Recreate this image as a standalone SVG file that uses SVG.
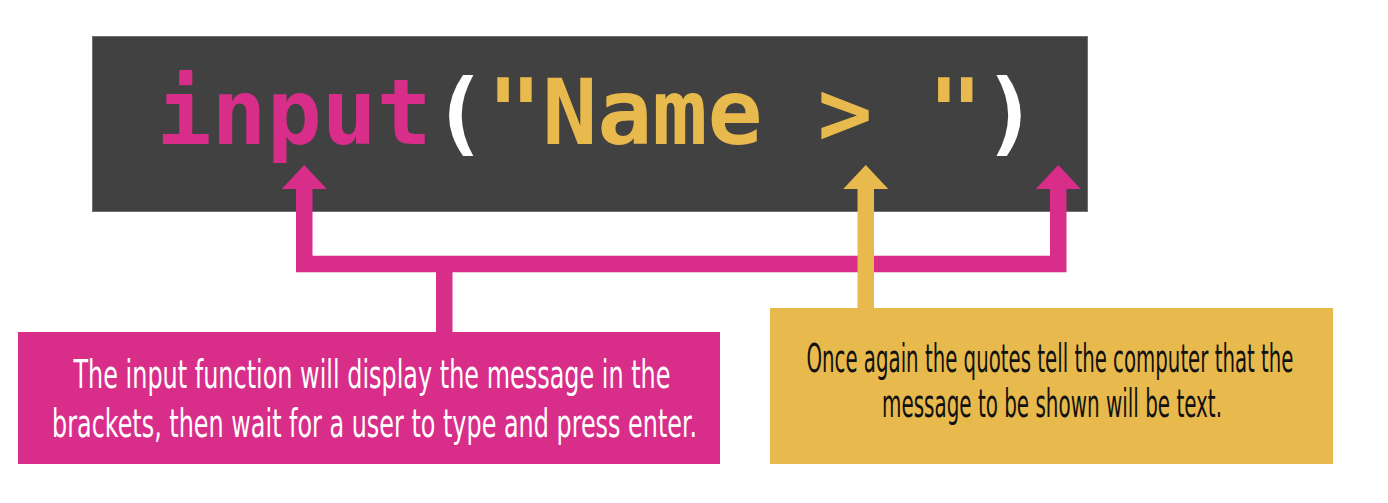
<svg xmlns="http://www.w3.org/2000/svg" width="1388" height="503" viewBox="0 0 1388 503">
<style>
.code{font-family:"DejaVu Sans Mono","Liberation Mono",monospace;font-weight:bold;font-size:91.5px}
.note{font-family:"DejaVu Sans Condensed","Liberation Sans Narrow","Liberation Sans",sans-serif;font-size:38.5px;text-anchor:middle}
.pink{fill:#D82E89}
.yellow{fill:#E8B94D}
</style>
<defs>
<marker id="headPink" markerUnits="userSpaceOnUse" viewBox="0 0 24 45" markerWidth="24" markerHeight="45" refX="0" refY="22.5" orient="auto-start-reverse">
<path d="M0,0 L24,22.5 L0,45 Z" fill="#D82E89"/>
</marker>
<marker id="headYellow" markerUnits="userSpaceOnUse" viewBox="0 0 24 45" markerWidth="24" markerHeight="45" refX="0" refY="22.5" orient="auto">
<path d="M0,0 L24,22.5 L0,45 Z" fill="#E8B94D"/>
</marker>
</defs>
<rect width="1388" height="503" fill="#ffffff"/>
<g id="code">
<rect x="92.5" y="36.5" width="995" height="175" fill="#414141" stroke="#707070" stroke-width="1"/>
<text class="code" x="156.5" y="144"><tspan fill="#D82E89">input</tspan><tspan fill="#ffffff">(</tspan><tspan fill="#E8B94D">"Name &gt; "</tspan><tspan fill="#ffffff">)</tspan></text>
</g>
<g id="connectors" fill="none">
<path d="M304.25,189 V264 H1058.25 V189" stroke="#D82E89" stroke-width="16.5" stroke-linejoin="miter" marker-start="url(#headPink)" marker-end="url(#headPink)"/>
<path d="M444.25,264 V332" stroke="#D82E89" stroke-width="16.5"/>
<path d="M865.75,308 V189" stroke="#E8B94D" stroke-width="16.5" marker-end="url(#headYellow)"/>
</g>
<g id="input-note">
<rect x="18" y="332" width="702" height="132" class="pink"/>
<text class="note" fill="#ffffff" x="372" y="388" textLength="597" lengthAdjust="spacingAndGlyphs">The input function will display the message in the</text>
<text class="note" fill="#ffffff" x="374.5" y="437" textLength="645" lengthAdjust="spacingAndGlyphs">brackets, then wait for a user to type and press enter.</text>
</g>
<g id="quotes-note">
<rect x="770" y="308" width="563" height="156" class="yellow"/>
<text class="note" fill="#111111" x="1050" y="372" textLength="487" lengthAdjust="spacingAndGlyphs">Once again the quotes tell the computer that the</text>
<text class="note" fill="#111111" x="1052" y="417" textLength="340" lengthAdjust="spacingAndGlyphs">message to be shown will be text.</text>
</g>
</svg>
